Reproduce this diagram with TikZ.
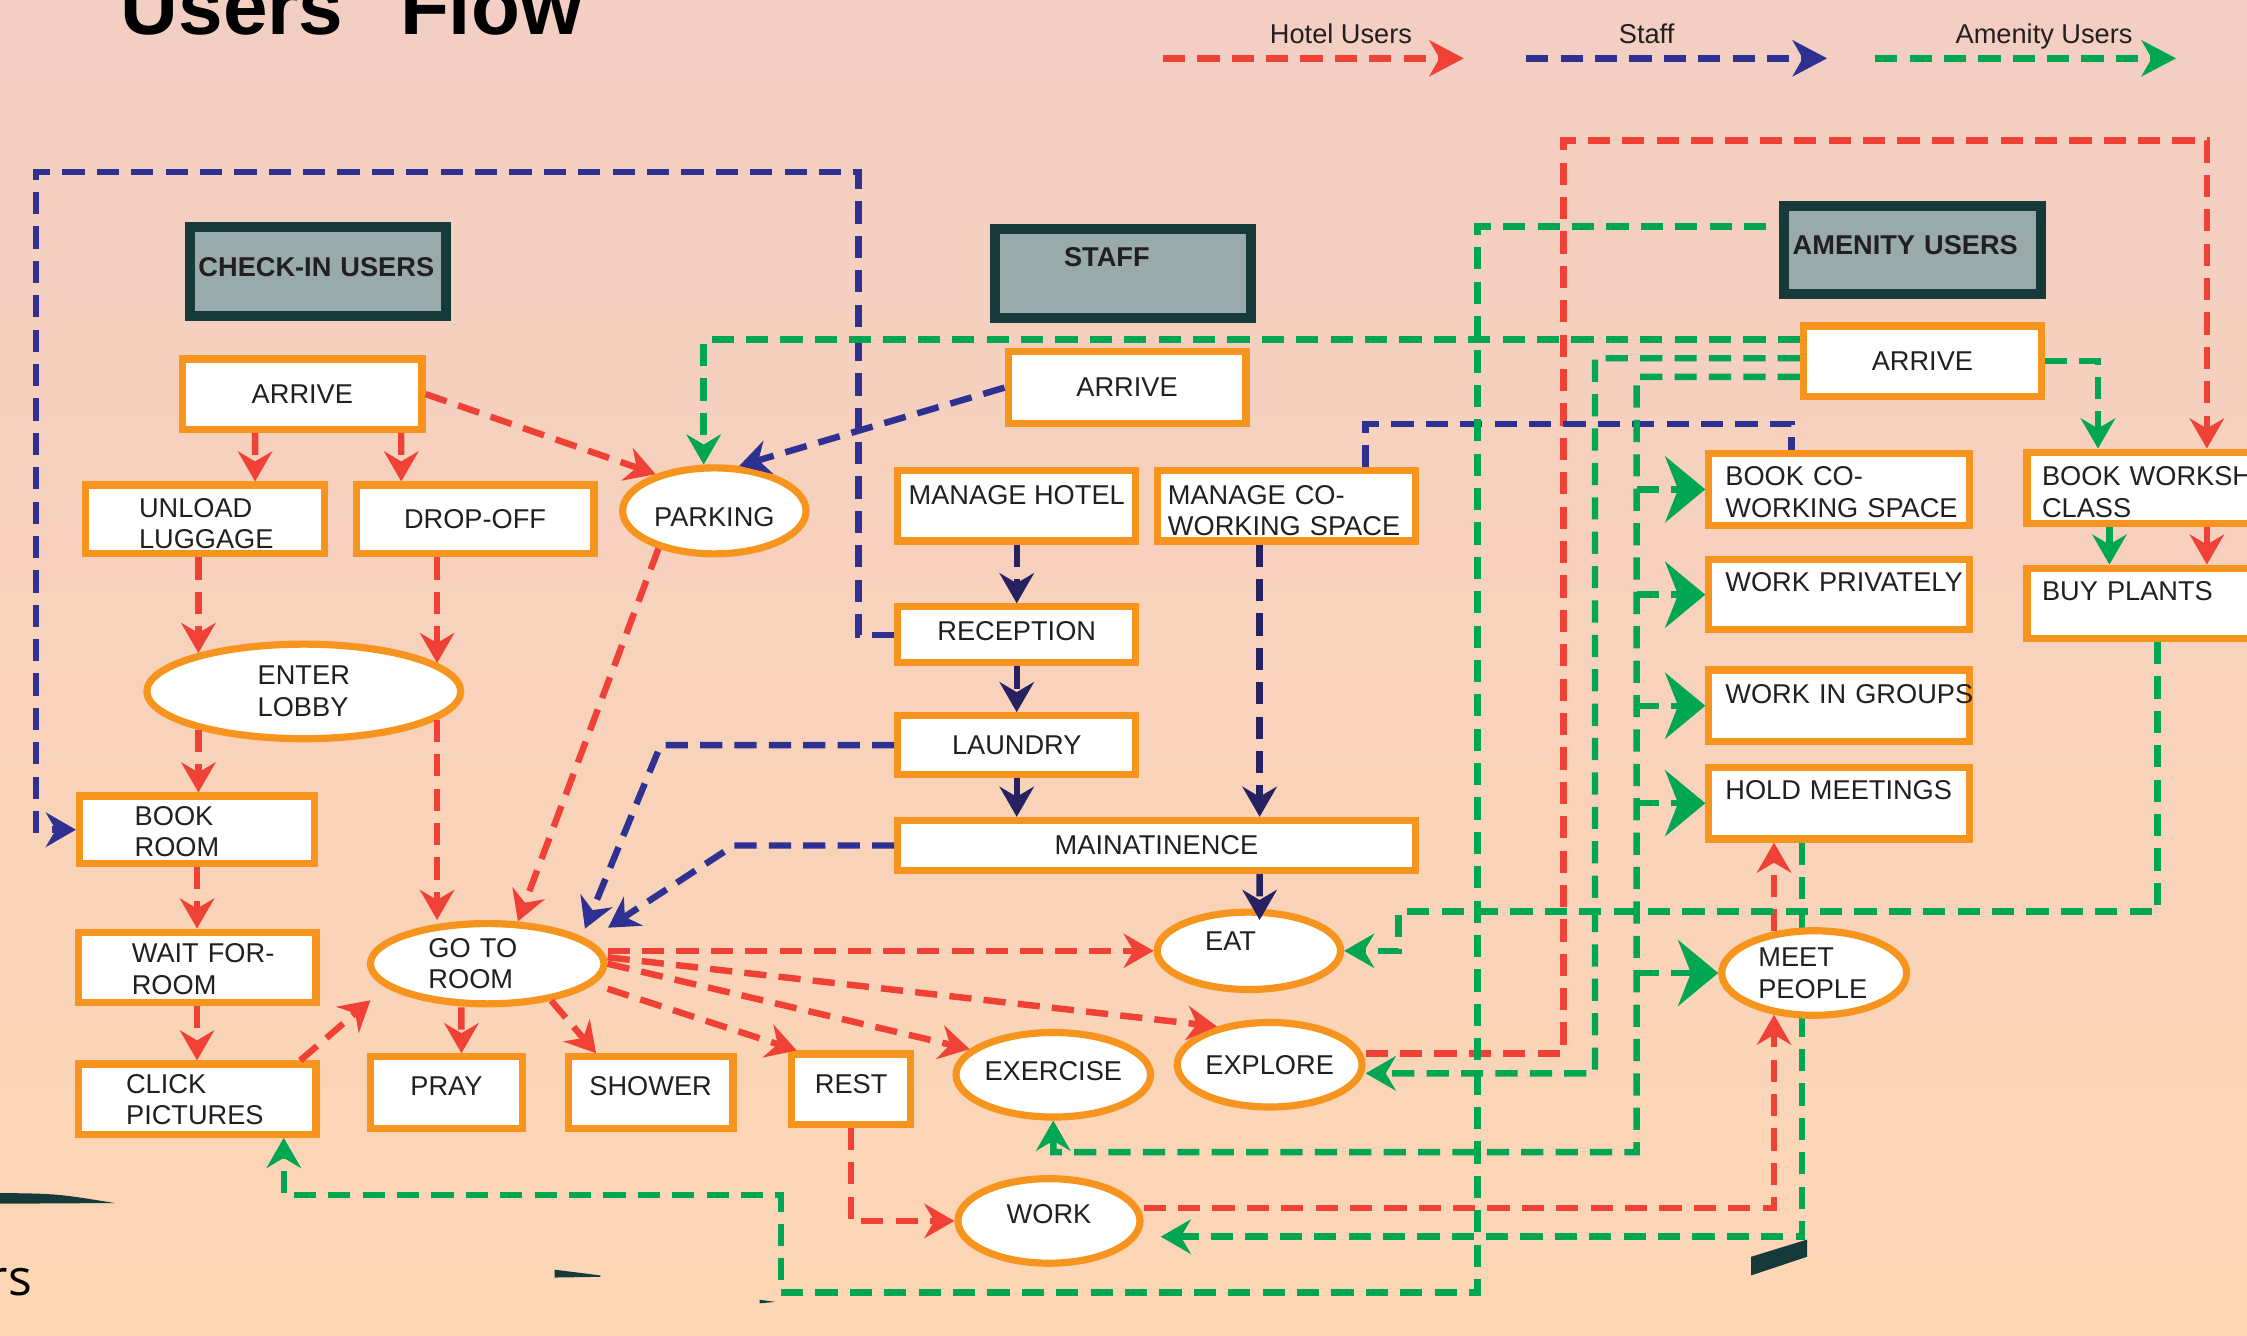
\documentclass[tikz,border=0pt]{standalone}
\usepackage{fontspec}
\setmainfont{Liberation Sans}
\newfontfamily\cornerfamily{Open Sans}
\usetikzlibrary{arrows.meta}
\usetikzlibrary{shapes.geometric}
\usetikzlibrary{backgrounds}

\definecolor{hotelred}{RGB}{239,65,54}
\definecolor{staffblue}{RGB}{46,49,146}
\definecolor{staffnavy}{RGB}{38,34,98}
\definecolor{amengreen}{RGB}{0,166,81}
\definecolor{boxorange}{RGB}{247,148,29}
\definecolor{headfill}{RGB}{152,170,169}
\definecolor{headline}{RGB}{22,58,58}
\definecolor{inkblack}{RGB}{35,31,32}
\definecolor{bgtop}{RGB}{243,206,195}
\definecolor{bgmid}{RGB}{250,218,200}
\definecolor{bgbot}{RGB}{252,214,180}

\newcommand\flowboxfont{\fontsize{5.4pt}{6.26pt}\selectfont\hyphenpenalty=10000 \exhyphenpenalty=10000 }
\newcommand\flowtitlefont{\fontsize{15.9pt}{18pt}\selectfont\bfseries}
\newcommand\cornerfont{\cornerfamily\fontsize{9.9pt}{12pt}\selectfont}

\tikzset{
  flow/.style={line width=0.45mm, dash pattern=on 1.55mm off 0.85mm,
    -{Stealth[length=2.1mm,width=2.4mm,inset=0.7mm]}},
  hotel/.style={flow, draw=hotelred},
  staff/.style={flow, draw=staffblue},
  staffcol/.style={flow, draw=staffnavy},
  amenity/.style={flow, draw=amengreen},
  bighead/.style={-{Stealth[length=2.8mm,width=4.6mm,inset=0.9mm]}},
  keyhead/.style={-{Stealth[length=2.4mm,width=2.5mm,inset=0.7mm]}},
  box/.style 2 args={draw=boxorange, fill=white, line width=0.5mm, text=inkblack,
    font=\flowboxfont, inner sep=0pt, minimum width=#1, minimum height=#2},
  oval/.style 2 args={box={#1}{#2}, ellipse},
  hdbox/.style={draw=headline, fill=headfill, line width=0.7mm, text=inkblack,
    font=\flowboxfont\bfseries, inner sep=0pt, minimum width=17.9mm, minimum height=6.2mm},
  keytext/.style={font=\flowboxfont, text=inkblack, inner sep=0pt, anchor=base west},
  lift/.style={text height=1.36mm, text depth=#1},
  lefttext/.style={text width=#1, align=left},
}

\begin{document}
\begin{tikzpicture}[x=0.1mm,y=-0.1mm]
  \useasboundingbox (0,0) rectangle (1568,932);
  \clip (0,0) rectangle (1568,932);
  \begin{scope}[on background layer]
    \fill[top color=bgtop, middle color=bgmid, bottom color=bgbot] (0,0) rectangle (1568,932);
  \end{scope}

  \node[font=\flowtitlefont, inner sep=0pt, anchor=base west] (title) at (83.5,24.4) {Users\hspace{0.71em}Flow};
  \node[font=\cornerfont, inner sep=0pt, anchor=base east] (cornerNote) at (23,904) {rs};
  \fill[headline] (0,832.5) .. controls (40,833) .. (80,839.5) -- (0,840) -- cycle;
  \fill[headline] (387,886) -- (419,890) -- (419,891) -- (387,891.5) -- cycle;
  \fill[headline] (530,907) -- (541,908.5) -- (530,909.5) -- cycle;
  \fill[headline] (1222,877) -- (1261,865) -- (1261,877) -- (1222,890) -- cycle;

  \node[keytext] (keyHotel) at (885.5,30.2) {Hotel Users};
  \node[keytext] (keyStaff) at (1129,30.7) {Staff};
  \node[keytext] (keyAmenity) at (1364,30.5) {Amenity Users};
  \coordinate (keyHotelA) at (811.5,40.7);
  \coordinate (keyHotelB) at (1021.5,40.7);
  \coordinate (keyStaffA) at (1065,40.7);
  \coordinate (keyStaffB) at (1275,40.7);
  \coordinate (keyAmenityA) at (1308.5,40.7);
  \coordinate (keyAmenityB) at (1518.5,40.7);
  \draw[hotel, keyhead] (keyHotelA) -- (keyHotelB);
  \draw[staff, keyhead] (keyStaffA) -- (keyStaffB);
  \draw[amenity, keyhead] (keyAmenityA) -- (keyAmenityB);

  \node[hdbox, lefttext=16.7mm, lift=0.7mm] (hdCheckin) at (222,189.5) {CHECK-IN~USERS};
  \node[hdbox, lefttext=8.2mm, lift=2.4mm] (hdStaff) at (783.5,191) {STAFF};
  \node[hdbox, lefttext=16.7mm, lift=0.7mm] (hdAmenity) at (1334.5,174.5) {AMENITY~USERS};

  \node[box={16.7mm}{4.9mm}] (ciArrive) at (211,275) {ARRIVE};
  \node[box={16.7mm}{4.8mm}, lefttext=9.2mm, lift=1.7mm] (unload) at (143,362.5) {UNLOAD\\LUGGAGE};
  \node[box={16.6mm}{4.8mm}] (dropoff) at (331.5,362.5) {DROP-OFF};
  \node[oval={12.8mm}{6.0mm}, text height=2.26mm] (parking) at (498.5,356.5) {PARKING};
  \node[oval={21.9mm}{6.6mm}, align=left] (lobby) at (212,482.5) {ENTER\\LOBBY};
  \node[box={16.4mm}{4.7mm}, lefttext=8.7mm, lift=2.0mm] (bookroom) at (137.5,579) {BOOK\\ROOM};
  \node[box={16.6mm}{4.9mm}, lefttext=9.1mm, lift=2.0mm] (waitroom) at (137.5,675) {WAIT~FOR-\\ROOM};
  \node[box={16.6mm}{4.9mm}, lefttext=9.9mm, lift=2.2mm] (clickpic) at (137.5,767) {CLICK\\PICTURES};
  \node[oval={16.3mm}{5.6mm}, lefttext=8.2mm] (gotoroom) at (340,672.5) {GO~TO\\ROOM};
  \node[box={10.6mm}{5.0mm}, lift=0.9mm] (pray) at (311.5,762.5) {PRAY};
  \node[box={11.5mm}{5.0mm}, lift=0.9mm] (shower) at (454,762.5) {SHOWER};
  \node[box={8.3mm}{4.9mm}, lift=0.8mm] (rest) at (594,760) {REST};
  \node[oval={12.9mm}{5.9mm}, lift=0.6mm] (exercise) at (735,750) {EXERCISE};
  \node[oval={12.9mm}{5.9mm}] (explore) at (886,743) {EXPLORE};
  \node[oval={12.8mm}{5.4mm}, lefttext=6.1mm, lift=1.4mm] (eat) at (871.5,663.5) {EAT};
  \node[oval={12.7mm}{5.9mm}, lift=1.0mm] (work) at (732,852) {WORK};

  \node[box={16.6mm}{5.0mm}] (stArrive) at (786.5,270.5) {ARRIVE};
  \node[box={16.6mm}{4.9mm}, lift=1.6mm] (mhotel) at (709.5,353) {MANAGE HOTEL};
  \node[box={18.0mm}{4.9mm}, lefttext=16.5mm, lift=1.6mm] (mcowork) at (897.5,353) {MANAGE~CO-\\WORKING~SPACE};
  \node[box={16.6mm}{3.9mm}, lift=0.6mm] (reception) at (709.5,443) {RECEPTION};
  \node[box={16.6mm}{4.1mm}] (laundry) at (709.5,520) {LAUNDRY};
  \node[box={36.1mm}{3.5mm}] (maint) at (807,590) {MAINATINENCE};

  \node[box={16.6mm}{4.9mm}] (amArrive) at (1341.5,252) {ARRIVE};
  \node[box={18.2mm}{5.0mm}, lefttext=15.9mm, lift=1.9mm] (bookco) at (1283.5,341.5) {BOOK~CO-\\WORKING~SPACE};
  \node[box={18.2mm}{4.9mm}, lefttext=15.9mm, lift=1.8mm] (workpriv) at (1283.5,415) {WORK~PRIVATELY};
  \node[box={18.2mm}{5.0mm}, lefttext=15.9mm, lift=1.7mm] (workgrp) at (1283.5,492.5) {WORK~IN~GROUPS};
  \node[box={18.2mm}{5.0mm}, lefttext=15.9mm, lift=1.9mm] (holdmeet) at (1283.5,560.5) {HOLD~MEETINGS};
  \node[box={18.2mm}{5.0mm}, lefttext=16.1mm, lift=1.7mm] (bookws) at (1505.5,340.5) {BOOK~WORKSHOP\\CLASS};
  \node[box={18.2mm}{4.9mm}, lefttext=16.1mm, lift=1.8mm] (buyplants) at (1505.5,421) {BUY~PLANTS};
  \node[oval={12.9mm}{5.9mm}, lefttext=7.8mm] (meet) at (1266,679) {MEET\\PEOPLE};

  \draw[hotel] ([xshift=-3.3mm]ciArrive.south) -- ([xshift=3.5mm]unload.north);
  \draw[hotel] ([xshift=6.9mm]ciArrive.south) -- ([xshift=-5.15mm]dropoff.north);
  \draw[hotel] (ciArrive.east) -- (parking.148);
  \draw[hotel] (unload.south -| lobby.160) -- (lobby.160);
  \draw[hotel] (dropoff.south -| lobby.12) -- (lobby.12);
  \draw[hotel] (lobby.-12) -- (lobby.-12 |- gotoroom.north);
  \draw[hotel] (lobby.200) -- (lobby.200 |- bookroom.north);
  \draw[hotel] (bookroom.south) -- (waitroom.north);
  \draw[hotel] (waitroom.south) -- (clickpic.north);
  \draw[hotel, shorten >=1.4mm] ([xshift=7.2mm]clickpic.north) -- (gotoroom.193);
  \draw[hotel] (parking.214) -- (gotoroom.54);
  \draw[hotel] ([xshift=-1.8mm]gotoroom.south) -- ([xshift=1.05mm]pray.north);
  \draw[hotel] (gotoroom.-30) -- ([xshift=-3.8mm]shower.north);
  \draw[hotel] ([yshift=-1.75mm]gotoroom.east) -- ([xshift=0.6mm]rest.north west);
  \draw[hotel] (gotoroom.east) -- (exercise.163);
  \draw[hotel] ([yshift=0.45mm]gotoroom.east) -- (explore.144);
  \draw[hotel] (gotoroom.east |- eat.west) -- (eat.west);
  \draw[hotel] (rest.south) |- (work.west);
  \draw[hotel] ([yshift=0.8mm]explore.east) -| (1091,98) -| ([xshift=3.45mm]bookws.north);
  \draw[hotel] ([xshift=3.45mm]bookws.south) -- ([xshift=3.45mm]buyplants.north);
  \draw[hotel] ([yshift=0.9mm]work.east) -| (meet.226);
  \draw[hotel] (meet.134) -- (meet.134 |- holdmeet.south);

  \draw[staff] (stArrive.west) -- (parking.61);
  \draw[staff] (reception.west) -| (599,120) -- (25,120) |- (bookroom.west);
  \draw[staffcol] (mhotel.south) -- (reception.north);
  \draw[staffcol] (reception.south) -- (laundry.north);
  \draw[staffcol] (laundry.south) -- (maint.north -| laundry.south);
  \draw[staffcol] ([xshift=-1.85mm]mcowork.south) -- ([xshift=-1.85mm]mcowork.south |- maint.north);
  \draw[staffcol] ([xshift=-1.85mm]mcowork.south |- maint.south) -- ([xshift=0.75mm,yshift=-0.8mm]eat.north);
  \draw[staff, shorten >=0.6mm] (laundry.west) -- ++(-163,0) -- (gotoroom.16);
  \draw[staff, shorten >=1.6mm] (maint.west) -- ++(-112,0) -- (gotoroom.13);
  \draw[staff, -] ([xshift=5.55mm]mcowork.north) -- ++(0,-30) -| ([xshift=-3.35mm]bookco.north);

  \coordinate (amLane) at (1142,263);
  \draw[amenity] ([yshift=1.5mm]amArrive.west) -| (parking.103);
  \draw[amenity] ([yshift=0.2mm]amArrive.west) -| (1113,749) -- ([yshift=-0.6mm]explore.east);
  \draw[amenity] ([yshift=-1.1mm]amArrive.west) -- (amLane) -- ++(0,541) -| (exercise.south);
  \draw[amenity, bighead] (amLane |- bookco.west) -- (bookco.west);
  \draw[amenity, bighead] (amLane |- workpriv.west) -- (workpriv.west);
  \draw[amenity, bighead] (amLane |- workgrp.west) -- (workgrp.west);
  \draw[amenity, bighead] (amLane |- holdmeet.west) -- (holdmeet.west);
  \draw[amenity, bighead] (amLane |- meet.west) -- (meet.west);
  \draw[amenity] (amArrive.east) -| ([xshift=-4.15mm]bookws.north);
  \draw[amenity] ([xshift=-3.35mm]bookws.south) -- ([xshift=-3.35mm]buyplants.north);
  \draw[amenity] (buyplants.south) |- (976,636) |- (eat.east);
  \draw[amenity] ([xshift=-0.9mm,yshift=1.65mm]hdAmenity.west) -| (1031,902) -| (545,834) -| ([xshift=6.05mm]clickpic.south);
  \begin{scope}[on background layer]
    \draw[amenity, shorten >=1.2mm] ([xshift=-2.6mm]holdmeet.south) |- ([yshift=-1.1mm]work.east);
  \end{scope}
\end{tikzpicture}
\end{document}
